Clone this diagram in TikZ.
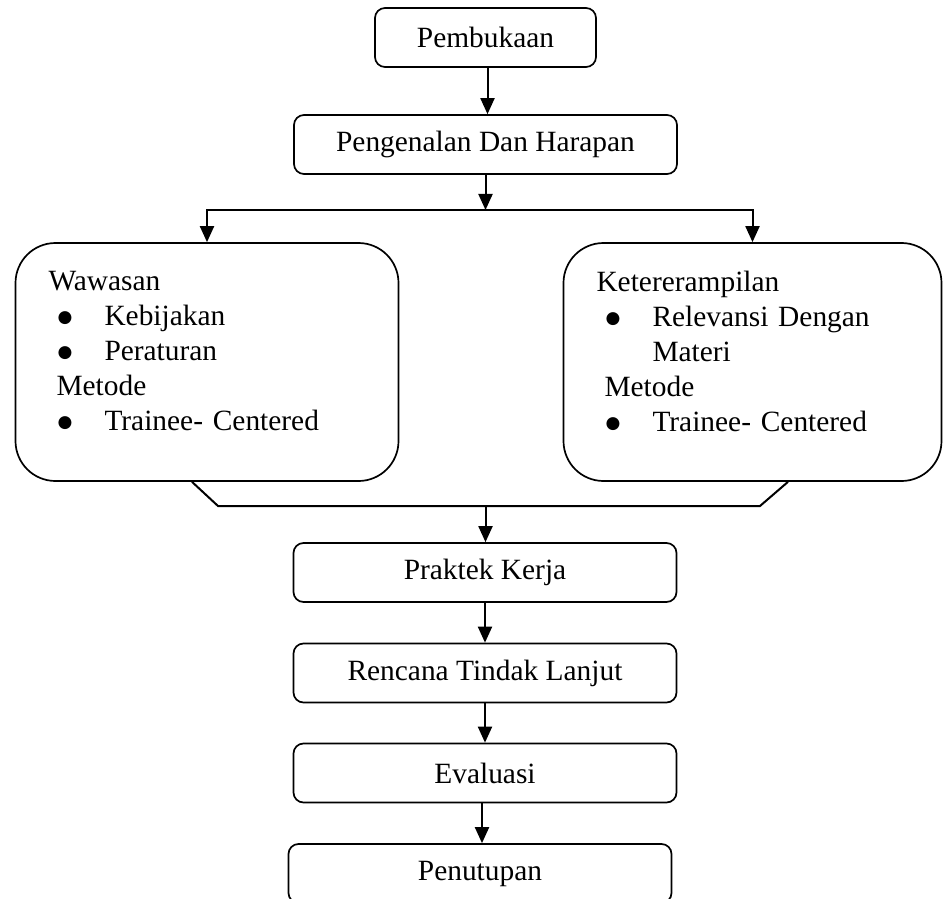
\documentclass[tikz,border=0pt]{standalone}
\usepackage{fontspec}
\setmainfont{Liberation Serif}
\newfontfamily\symfont{DejaVu Sans}
\usetikzlibrary{arrows.meta}
\newcommand{\bigdot}{\raisebox{1.4pt}{\fontsize{8.5pt}{0pt}\symfont ●}}
\newcommand{\itm}[1]{\makebox[28pt][l]{\hspace{4.5pt}\bigdot}#1}
\newcommand{\cont}[1]{\hspace*{28pt}#1}
\begin{document}
\begin{tikzpicture}[x=0.5pt, y=-0.5pt, every node/.style={font=\fontsize{14.7pt}{17.5pt}\selectfont}]
\tikzset{
  stepbox/.style={draw, line width=0.85pt, rounded corners=5pt, minimum width=191.5pt, minimum height=29.5pt, inner sep=0pt},
  bigbox/.style={draw, line width=0.85pt, rounded corners=20pt, text width=158.5pt, inner xsep=16.5pt, inner ysep=0pt, minimum height=119pt, align=left},
  arr/.style={line width=1pt, -{Triangle[width=7pt,length=8pt]}},
  link/.style={line width=1pt}
}
\useasboundingbox (0,0) rectangle (943,899);
\clip (0,0) rectangle (943,899);

% --- top steps ---
\node[stepbox, minimum width=110.5pt] (open) at (485.5,37.5) {Pembukaan};
\node[stepbox] (intro) at (485.5,144.5) {Pengenalan Dan Harapan};
\coordinate (split) at (485.5,210);

% --- two content blocks ---
\node[bigbox] (wl) at (207,362) {Wawasan\\
  \itm{Kebijakan}\\
  \itm{Peraturan}\\
  \hspace*{4pt}Metode\\
  \itm{Trainee- Centered}\rule[-11pt]{0pt}{10pt}};
\node[bigbox, text width=156pt] (wr) at (752.5,362) {Ketererampilan\\
  \itm{Relevansi Dengan}\\
  \cont{Materi}\\
  \hspace*{4pt}Metode\\
  \itm{Trainee- Centered}\rule[-11pt]{0pt}{10pt}};
\coordinate (mergeL) at (218,506);
\coordinate (mergeR) at (760,506);
\coordinate (merge) at (485.5,506);

% --- lower steps ---
\node[stepbox] (work) at (485,572.5) {Praktek Kerja};
\node[stepbox] (plan) at (485,673) {Rencana Tindak Lanjut};
\node[stepbox] (eval) at (485,773) {Evaluasi};
\node[stepbox] (close) at (480,873.5) {Penutupan};

% --- connectors ---
\draw[arr] ([xshift=1pt]open.south) -- ([xshift=1pt]open.south |- intro.north);
\draw[arr] (intro.south) -- (split);
\draw[arr] (split) -| (wl.north);
\draw[arr] (split) -| (wr.north);
\draw[link] ([xshift=-7.5pt]wl.south) -- (mergeL) -- (mergeR) -- ([xshift=17.75pt]wr.south);
\draw[arr] (merge) -- (merge |- work.north);
\draw[arr] (work.south) -- (plan.north);
\draw[arr] (plan.south) -- (eval.north);
\draw[arr] ([xshift=-1.5pt]eval.south) -- ([xshift=-1.5pt]eval.south |- close.north);
\end{tikzpicture}
\end{document}
